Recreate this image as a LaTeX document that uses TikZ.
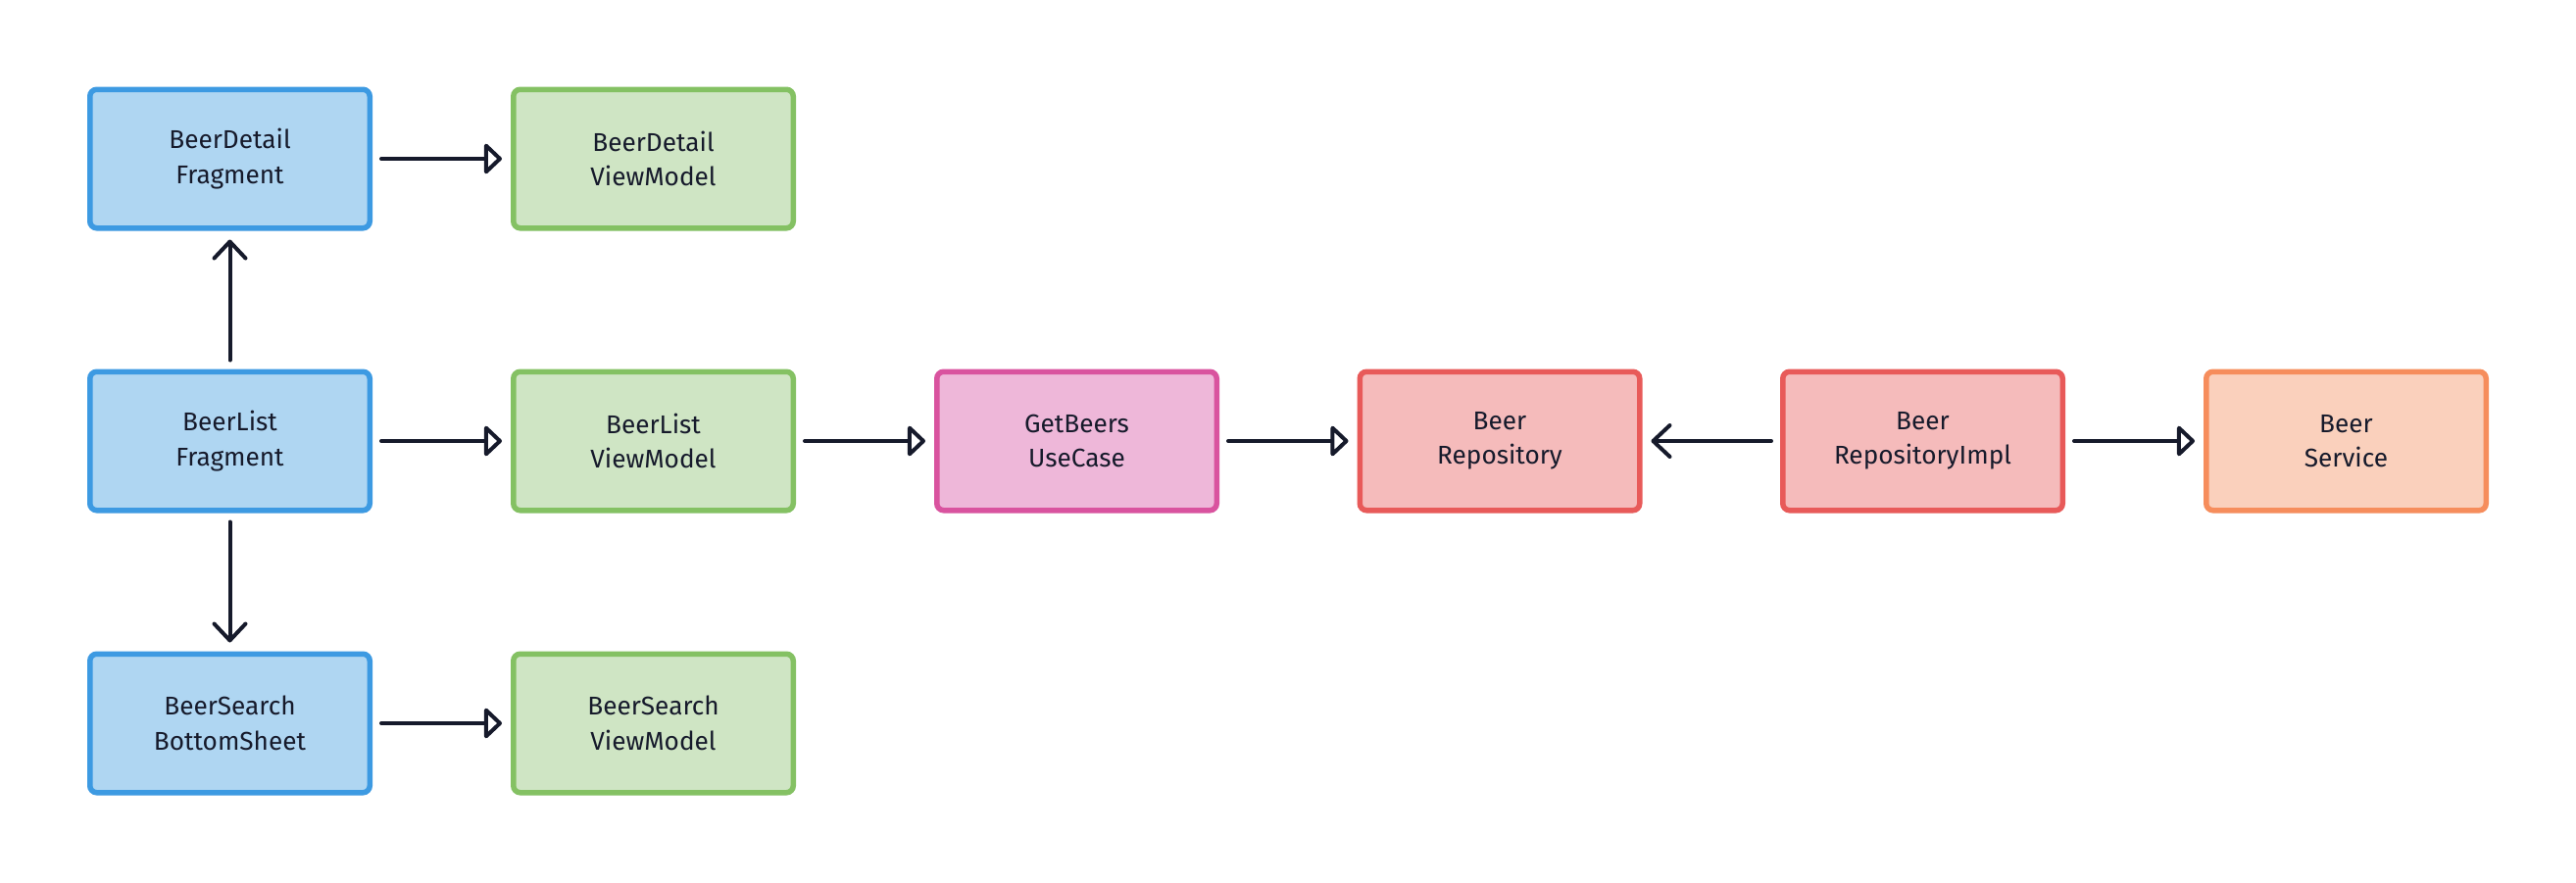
\documentclass[tikz,border=0pt]{standalone}
\usepackage{fontspec}
\setmainfont{Fira Sans}
\usetikzlibrary{arrows.meta,shadows}
\definecolor{bluebd}{HTML}{3D9AE2}
\definecolor{bluefl}{HTML}{AFD6F2}
\definecolor{greenbd}{HTML}{84C163}
\definecolor{greenfl}{HTML}{CFE5C4}
\definecolor{pinkbd}{HTML}{D9539F}
\definecolor{pinkfl}{HTML}{EEB7D9}
\definecolor{redbd}{HTML}{E85A59}
\definecolor{redfl}{HTML}{F5BBBB}
\definecolor{orangebd}{HTML}{F68D5C}
\definecolor{orangefl}{HTML}{FAD0BC}
\definecolor{ink}{HTML}{161A2B}
\tikzset{
  box/.style={draw, line width=5.5pt, rounded corners=7pt,
    minimum width=285.5pt, minimum height=141.5pt, inner sep=0pt,
    align=center, text=ink, font=\fontsize{26.2}{35.5}\selectfont,
    drop shadow={shadow xshift=0pt, shadow yshift=-3pt, opacity=0.08}},
  bluebox/.style={box, draw=bluebd, fill=bluefl},
  greenbox/.style={box, draw=greenbd, fill=greenfl},
  pinkbox/.style={box, draw=pinkbd, fill=pinkfl},
  redbox/.style={box, draw=redbd, fill=redfl},
  orangebox/.style={box, draw=orangebd, fill=orangefl},
  tri/.style={draw=ink, line width=4pt, line cap=round,
    -{Triangle[open, length=19pt, width=35pt, line width=4pt, round]},
    shorten <=9pt, shorten >=9pt},
  chev/.style={draw=ink, line width=4pt, line cap=round,
    -{Straight Barb[length=17pt, width=32pt, line width=4pt, round]},
    shorten <=9pt, shorten >=9pt},
}
\begin{document}
\begin{tikzpicture}[x=1pt,y=-1pt]
\useasboundingbox (0,0) rectangle (2628,900);
\node[bluebox]   (bdf)  at (234.5,162) {BeerDetail\\Fragment};
\node[greenbox]  (bdvm) at (666.5,162) {BeerDetail\\ViewModel};
\node[bluebox]   (blf)  at (234.5,450) {BeerList\\Fragment};
\node[greenbox]  (blvm) at (666.5,450) {BeerList\\ViewModel};
\node[pinkbox]   (uc)   at (1098.5,450) {GetBeers\\UseCase};
\node[redbox]    (repo) at (1530,450) {Beer\\Repository};
\node[redbox]    (impl) at (1961.5,450) {Beer\\RepositoryImpl};
\node[orangebox] (svc)  at (2393.5,450) {Beer\\Service};
\node[bluebox]   (bsb)  at (234.5,738) {BeerSearch\\BottomSheet};
\node[greenbox]  (bsvm) at (666.5,738) {BeerSearch\\ViewModel};

\draw[tri] (bdf) -- (bdvm);
\draw[tri] (blf) -- (blvm);
\draw[tri] (blvm) -- (uc);
\draw[tri] (uc) -- (repo);
\draw[tri] (impl) -- (svc);
\draw[tri] (bsb) -- (bsvm);
\draw[chev] (impl) -- (repo);
\draw[chev] (blf) -- (bdf);
\draw[chev] (blf) -- (bsb);
\end{tikzpicture}
\end{document}
